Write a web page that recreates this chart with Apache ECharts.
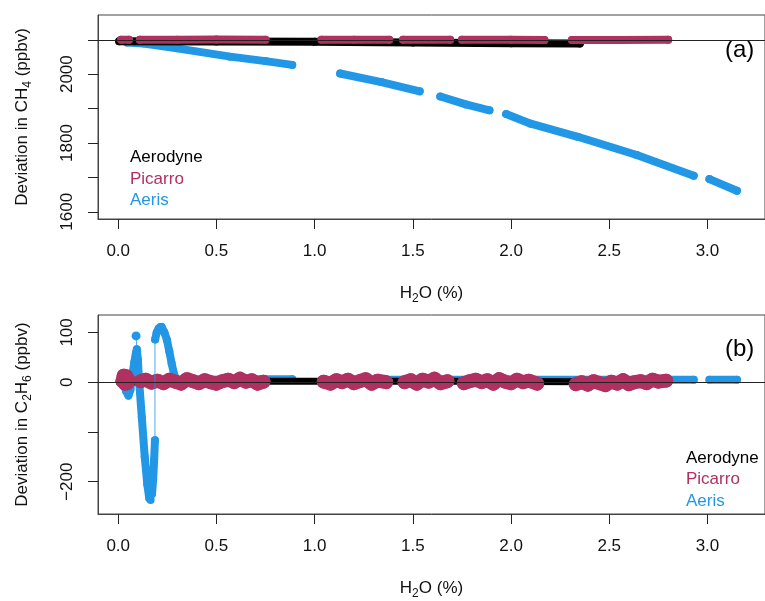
<!DOCTYPE html>
<html>
<head>
<meta charset="utf-8">
<script src="https://cdn.jsdelivr.net/npm/echarts@6/dist/echarts.min.js"></script>
<style>
  html, body { margin: 0; padding: 0; background: #fff; }
  #chart { width: 765px; height: 601px; }
</style>
</head>
<body>
<div id="chart"></div>
<script>
  // H2O (%) on x, deviation (ppbv) on y; null = gap in the record
  const xTicks = [0, 0.5, 1, 1.5, 2, 2.5, 3]

  // (a) CH4
  const xCh4Aerodyne = [0.005, 0.5, 1.0, 1.5, 2.0, 2.35]
  const ch4Aerodyne = [2096, 2095, 2094, 2092, 2090, 2089]
  const xCh4Picarro = [0.015, 0.055, null, 0.11, 0.3, 0.5, 0.75, null, 1.035, 1.2, 1.38, null, 1.45, 1.69, null, 1.75, 2.0, 2.17, null, 2.31, 2.55, 2.8]
  const ch4Picarro = [2100, 2100, null, 2100, 2100, 2101, 2100, null, 2100, 2100, 2100, null, 2100, 2100, null, 2100, 2100, 2099, null, 2099, 2099, 2100]
  const xCh4Aeris = [0.045, 0.13, 0.3, 0.57, 0.75, 0.886, null, 1.13, 1.34, 1.535, null, 1.64, 1.77, 1.89, null, 1.975, 2.1, 2.34, 2.64, 2.93, null, 3.01, 3.15]
  const ch4Aeris = [2092, 2089, 2075, 2051, 2038, 2027, null, 2002, 1977, 1950, null, 1935, 1912, 1895, null, 1884, 1856, 1818, 1765, 1705, null, 1695, 1661]
  const ch4Ticks = [1600, 1700, 1800, 1900, 2000, 2100]
  const ch4Labels = [1600, 1800, 2000]

  // (b) C2H6
  const xC2h6Aerodyne = [0.005, 0.6, 1.2, 1.8, 2.35]
  const c2h6Aerodyne = [1, 2, 2, 2, 1]
  const xC2h6Picarro = [0.022, 0.028, 0.034, 0.04, 0.046, 0.052, null,
    0.115, 0.14, 0.17, 0.2, 0.23, 0.26, 0.29, 0.32, 0.35, 0.38, 0.41, 0.44, 0.47, 0.5, 0.53, 0.56, 0.59, 0.62, 0.65, 0.68, 0.71, 0.74, null,
    1.046, 1.08, 1.11, 1.14, 1.17, 1.2, 1.23, 1.26, 1.29, 1.32, 1.364, null,
    1.458, 1.49, 1.52, 1.55, 1.58, 1.61, 1.64, 1.676, null,
    1.76, 1.79, 1.82, 1.85, 1.88, 1.91, 1.94, 1.97, 2.0, 2.03, 2.06, 2.09, 2.133, null,
    2.33, 2.36, 2.39, 2.42, 2.45, 2.48, 2.51, 2.54, 2.57, 2.6, 2.63, 2.66, 2.69, 2.72, 2.75, 2.79]
  const c2h6Picarro = [2, 13, -3, 12, -2, 5, null,
    2, 5, -1, 3, -2, 5, 1, -3, 6, 2, -2, 4, 0, -3, 2, 5, 0, 7, 1, 4, -3, 1, null,
    1, -3, 4, 0, 5, -2, 2, 6, -3, 3, 0, null,
    0, 4, -3, 5, 1, 7, -2, 2, null,
    -2, 2, 5, 0, 4, -3, 6, 1, -2, 5, 0, 3, -3, null,
    -4, 0, -5, 2, -2, -6, 1, -3, 4, -4, 0, 2, -2, 5, 1, 3]
  const xC2h6Aeris = [0.025, 0.04, 0.052, 0.062, 0.072, 0.082, 0.09, 0.095, 0.1, 0.105, 0.12, 0.135, 0.148, 0.158, 0.165, 0.172, 0.178, 0.183, 0.187, null,
    0.188, 0.196, 0.206, 0.214, 0.221, 0.235, 0.248, 0.26, 0.272, 0.285, 0.297, 0.45, 0.7, 0.886, null,
    1.13, 1.535, null, 1.64, 1.89, null, 1.975, 2.5, 2.93, null, 3.01, 3.15]
  const c2h6Aeris = [0, -18, -27, -15, 15, 40, 58, 66, 45, 10, -70, -150, -205, -233, -237, -225, -195, -155, -117, null,
    86, 100, 108, 111, 111, 100, 85, 62, 38, 15, 5, 5, 6, 6, null,
    5, 5, null, 5, 5, null, 5, 5, 5, null, 5, 5]
  // thin joins where the Aeris record jumps
  const xC2h6AerisJump = [0.091, 0.095, null, 0.187, 0.187]
  const c2h6AerisJump = [93, 66, null, -117, 86]
  const xC2h6AerisDot = [0.091]
  const c2h6AerisDot = [93]
  const c2h6Ticks = [-200, -100, 0, 100]
  const c2h6Labels = [-200, 0, 100]

  const names = ['Aerodyne', 'Picarro', 'Aeris']
  const colors = { Aerodyne: '#000000', Picarro: '#B03060', Aeris: '#2297E6' }
  const font = '"Liberation Sans", Arial, sans-serif'

  function pairs(xs, ys) {
    return xs.map((x, i) => [x, ys[i]])
  }

  // dense points drawn as a thick line, with round dots at every reading
  function band(name, xs, ys, idx, width, z) {
    return {
      name: name,
      type: 'line',
      xAxisIndex: idx,
      yAxisIndex: idx,
      data: pairs(xs, ys),
      showSymbol: true,
      showAllSymbol: true,
      symbol: 'circle',
      symbolSize: width,
      connectNulls: false,
      z: z,
      lineStyle: { color: colors[name], width: width, cap: 'round', join: 'round' },
      itemStyle: { color: colors[name], borderWidth: 0 }
    }
  }

  function refLine(v) {
    return {
      symbol: 'none',
      silent: true,
      label: { show: false },
      lineStyle: { color: '#222', width: 1, type: 'solid' },
      data: [{ yAxis: v }]
    }
  }

  const rich = {
    t: { fontSize: 17, fontFamily: font, color: '#111', lineHeight: 24 },
    s: { fontSize: 12, fontFamily: font, color: '#111', lineHeight: 12, verticalAlign: 'bottom' }
  }

  function xAxis(idx) {
    return {
      type: 'value',
      gridIndex: idx,
      min: -0.1029,
      max: 3.293,
      name: '{t|H}{s|2}{t|O (%)}',
      nameLocation: 'middle',
      nameGap: 62,
      nameTextStyle: { rich: rich },
      axisLine: { show: true, onZero: false, lineStyle: { color: '#444' } },
      axisTick: { show: true, length: 10, customValues: xTicks, lineStyle: { color: '#222' } },
      axisLabel: {
        customValues: xTicks, margin: 24, fontSize: 17, fontFamily: font, color: '#111',
        formatter: v => v.toFixed(1)
      },
      splitLine: { show: false }
    }
  }

  function yAxis(idx, min, max, ticks, labels, title) {
    return {
      type: 'value',
      gridIndex: idx,
      min: min,
      max: max,
      name: title,
      nameLocation: 'middle',
      nameRotate: 90,
      nameGap: 64,
      nameTextStyle: { rich: rich },
      axisLine: { show: true, onZero: false, lineStyle: { color: '#444' } },
      axisTick: { show: true, length: 10, customValues: ticks, lineStyle: { color: '#222' } },
      axisLabel: {
        customValues: labels, rotate: 90, margin: 22, fontSize: 17, fontFamily: font, color: '#111',
        formatter: v => (v < 0 ? '\u2212' + Math.abs(v) : String(v))
      },
      splitLine: { show: false }
    }
  }

  function legend(left, top) {
    return {
      orient: 'vertical',
      left: left,
      top: top,
      icon: 'none',
      itemWidth: 0,
      itemHeight: 14,
      itemGap: 4.5,
      selectedMode: false,
      textStyle: { fontSize: 17, fontFamily: font },
      data: names.map(n => ({ name: n, textStyle: { color: colors[n] } }))
    }
  }

  const chart = echarts.init(document.getElementById('chart'), null, { renderer: 'canvas' })

  const option = {
    animation: false,
    backgroundColor: '#fff',
    grid: [
      { left: 98, top: 15, width: 670, height: 204, show: true, borderColor: '#444', borderWidth: 1 },
      { left: 98, top: 315, width: 670, height: 204, show: true, borderColor: '#444', borderWidth: 1 }
    ],
    xAxis: [xAxis(0), xAxis(1)],
    yAxis: [
      yAxis(0, 1579, 2172, ch4Ticks, ch4Labels, '{t|Deviation in CH}{s|4}{t| (ppbv)}'),
      yAxis(1, -265, 135, c2h6Ticks, c2h6Labels, '{t|Deviation in C}{s|2}{t|H}{s|6}{t| (ppbv)}')
    ],
    legend: [legend(120, 144), legend(676, 444.5)],
    graphic: [
      { type: 'text', left: 725, top: 38, style: { text: '(a)', font: '24px ' + font, fill: '#000' } },
      { type: 'text', left: 725, top: 337, style: { text: '(b)', font: '24px ' + font, fill: '#000' } }
    ],
    series: [
      // panel (a)
      band('Aeris', xCh4Aeris, ch4Aeris, 0, 8, 1),
      Object.assign(band('Aerodyne', xCh4Aerodyne, ch4Aerodyne, 0, 8, 2), { markLine: refLine(2100) }),
      band('Picarro', xCh4Picarro, ch4Picarro, 0, 8, 3),
      // panel (b)
      band('Aeris', xC2h6Aeris, c2h6Aeris, 1, 8, 1),
      {
        name: 'Aeris jump',
        type: 'line',
        xAxisIndex: 1,
        yAxisIndex: 1,
        data: pairs(xC2h6AerisJump, c2h6AerisJump),
        showSymbol: false,
        connectNulls: false,
        z: 4,
        lineStyle: { color: colors.Aeris, width: 1, opacity: 0.8 }
      },
      {
        name: 'Aeris dot',
        type: 'scatter',
        xAxisIndex: 1,
        yAxisIndex: 1,
        data: pairs(xC2h6AerisDot, c2h6AerisDot),
        symbolSize: 9,
        z: 1,
        itemStyle: { color: colors.Aeris, opacity: 1 }
      },
      Object.assign(band('Aerodyne', xC2h6Aerodyne, c2h6Aerodyne, 1, 7, 2), { markLine: refLine(0) }),
      band('Picarro', xC2h6Picarro, c2h6Picarro, 1, 14, 3)
    ]
  }

  chart.setOption(option)
</script>
</body>
</html>
